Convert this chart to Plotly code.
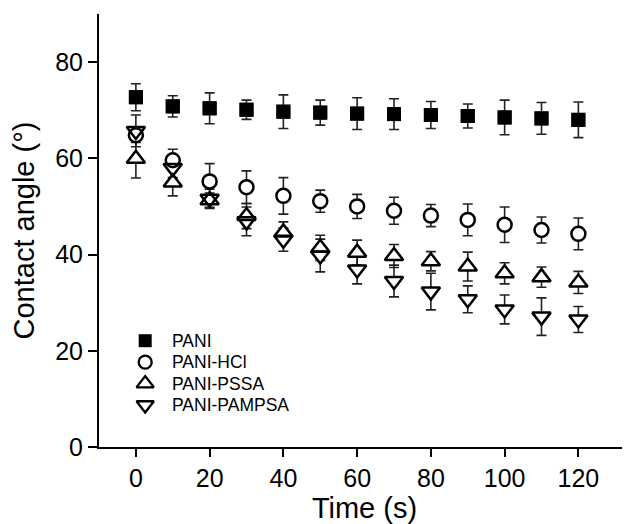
import plotly.graph_objects as go

time_s = [0, 10, 20, 30, 40, 50, 60, 70, 80, 90, 100, 110, 120]
pani = [72.7, 70.8, 70.4, 70.1, 69.7, 69.5, 69.3, 69.2, 69.0, 68.8, 68.5, 68.3, 68.0]
pani_err = [2.8, 2.2, 3.2, 2.0, 3.5, 2.6, 3.3, 3.2, 2.8, 2.5, 3.6, 3.3, 3.7]
hcl = [64.8, 59.6, 55.2, 54.0, 52.2, 51.1, 50.0, 49.1, 48.1, 47.2, 46.2, 45.1, 44.3]
hcl_err = [1.5, 2.3, 3.7, 3.4, 3.8, 2.3, 2.5, 2.8, 2.3, 3.3, 3.7, 2.7, 3.3]
pssa = [59.9, 55.0, 51.3, 48.0, 44.6, 41.4, 40.4, 39.7, 38.6, 37.5, 36.1, 35.3, 34.2]
pssa_err = [4.0, 2.8, 1.5, 2.6, 2.2, 2.6, 2.6, 2.4, 2.0, 3.0, 2.2, 2.1, 2.3]
pampsa = [65.7, 58.0, 51.6, 46.9, 43.1, 39.8, 36.9, 34.5, 32.3, 30.7, 28.6, 27.1, 26.5]
pampsa_err = [3.3, 2.0, 2.0, 3.0, 2.4, 3.4, 3.0, 3.3, 3.8, 2.8, 3.0, 3.9, 2.7]

names = ["PANI", "PANI-HCl", "PANI-PSSA", "PANI-PAMPSA"]
x_ticks = [0, 20, 40, 60, 80, 100, 120]
y_ticks = [0, 20, 40, 60, 80]

series = [
    (names[0], pani, pani_err, "square", 14, True),
    (names[1], hcl, hcl_err, "circle", 14, False),
    (names[2], pssa, pssa_err, "triangle-up", 16, False),
    (names[3], pampsa, pampsa_err, "triangle-down", 16, False),
]

fig = go.Figure()
FONT = "Arial, Liberation Sans, sans-serif"

# layer 1: error bars
for name, y, e, sym, sz, filled in series:
    fig.add_trace(go.Scatter(
        x=time_s, y=y, mode="markers", showlegend=False, hoverinfo="skip",
        marker=dict(size=sz, symbol=sym, color="rgba(0,0,0,0)", line=dict(width=0)),
        error_y=dict(type="data", array=e, visible=True, color="#222",
                     thickness=1.6, width=5),
    ))
# layer 2: white fills (gap for error bars)
for name, y, e, sym, sz, filled in series:
    fig.add_trace(go.Scatter(
        x=time_s, y=y, mode="markers", showlegend=False, hoverinfo="skip",
        marker=dict(size=sz, symbol=sym, color="black" if filled else "white",
                    line=dict(width=0)),
    ))
# layer 3: outlines
for name, y, e, sym, sz, filled in series:
    fig.add_trace(go.Scatter(
        x=time_s, y=y, mode="markers", name=name, showlegend=False,
        marker=dict(size=sz, symbol=sym if filled else sym + "-open",
                    color="black", line=dict(width=0 if filled else 2.5, color="black")),
    ))

# legend keys on an invisible overlay axis (0..1 in both directions)
leg_x0 = 0.087
leg_tx = 0.134
leg_y0 = 0.2455
leg_dy = 0.0495
for i, (name, y, e, sym, sz, filled) in enumerate(series):
    yy = leg_y0 - i * leg_dy
    fig.add_trace(go.Scatter(
        x=[leg_x0], y=[yy], xaxis="x2", yaxis="y2", mode="markers",
        showlegend=False, hoverinfo="skip",
        marker=dict(size=sz - 1, symbol=sym if filled else sym + "-open",
                    color="black", line=dict(width=0 if filled else 2.3, color="black")),
    ))
    fig.add_annotation(x=leg_tx, y=yy, xref="paper", yref="paper", text=name,
                       showarrow=False, xanchor="left", yanchor="middle",
                       font=dict(family=FONT, size=17.5, color="black"))

axis_common = dict(showline=True, linecolor="black", linewidth=2, ticks="outside",
                   tickwidth=2, tickcolor="black", showgrid=False, zeroline=False,
                   mirror=False, automargin=False,
                   tickfont=dict(family=FONT, size=25, color="black"))

fig.update_layout(
    width=630, height=524,
    margin=dict(l=91, r=8, t=6, b=85),
    paper_bgcolor="white", plot_bgcolor="white",
    font=dict(family=FONT, color="black"),
    xaxis=dict(range=[-10, 134], tickvals=x_ticks, ticklen=8,
               title=dict(text="Time (s)", font=dict(family=FONT, size=29), standoff=4),
               **axis_common),
    yaxis=dict(range=[0, 90], tickvals=y_ticks, ticklen=9,
               title=dict(text="Contact angle (°)", font=dict(family=FONT, size=29), standoff=14),
               **axis_common),
    xaxis2=dict(range=[0, 1], overlaying="x", visible=False, fixedrange=True),
    yaxis2=dict(range=[0, 1], overlaying="y", visible=False, fixedrange=True),
    showlegend=False,
)

fig.write_html("out.html")
